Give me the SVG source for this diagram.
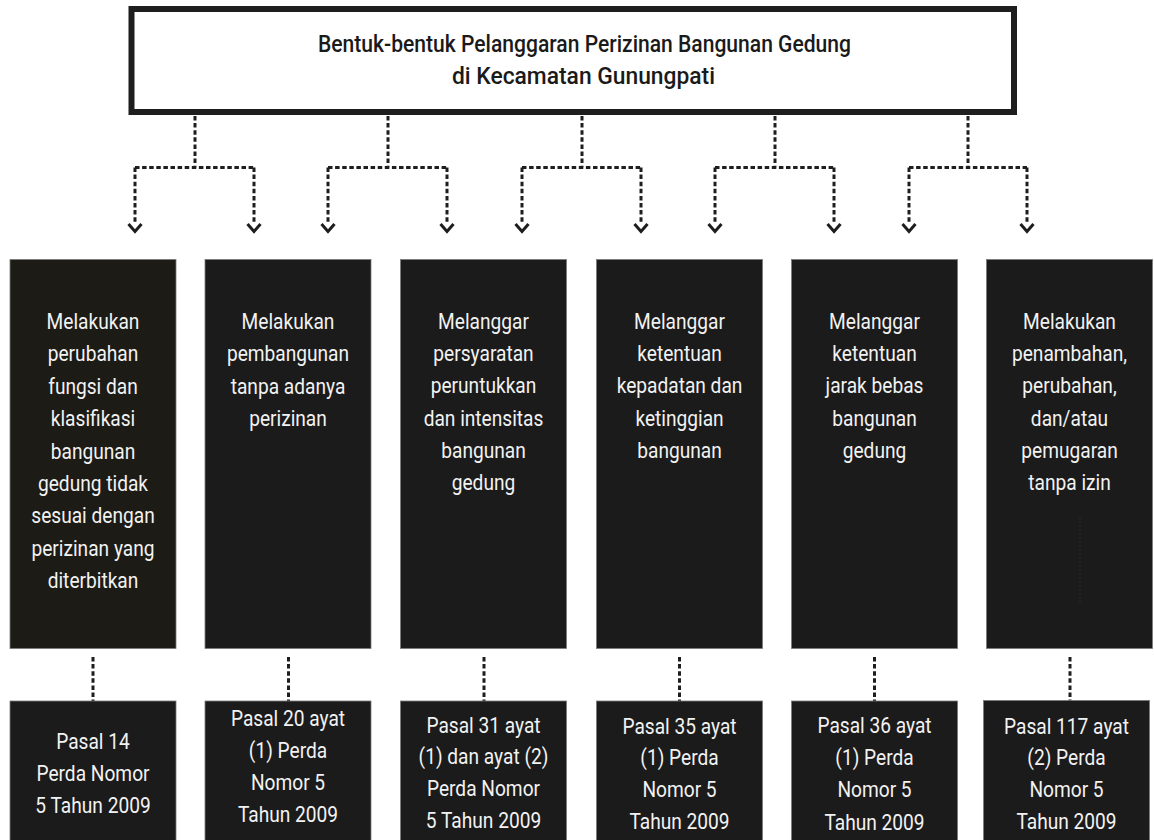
<svg xmlns="http://www.w3.org/2000/svg" width="1154" height="840" viewBox="0 0 1154 840">
<defs>
<style>
.title{font-family:Roboto,"Liberation Sans",sans-serif;font-size:24px;font-weight:500;fill:#1a1a1a;text-anchor:middle}
.box{fill:#1b1b1b;stroke:#7a7a7a;stroke-width:0.8}
.box1{fill:#1c1b15}
.lbl{font-family:Roboto,"Liberation Sans",sans-serif;font-size:22px;fill:#f2f2f2;text-anchor:middle}
.dash{fill:none;stroke:#1e1e1e;stroke-width:3;stroke-dasharray:4.5 2.6}
</style>
<marker id="chev" markerUnits="userSpaceOnUse" markerWidth="20" markerHeight="20" viewBox="-10 -10 20 20" refX="0" refY="0" orient="0" overflow="visible">
<polyline points="-6.5,2 0,9.5 6.5,2" fill="none" stroke="#1e1e1e" stroke-width="3"/>
</marker>
</defs>
<rect width="1154" height="840" fill="#ffffff"/>

<g id="title">
<rect x="131.5" y="9" width="882.5" height="103" fill="#ffffff" stroke="#1e1e1e" stroke-width="6"/>
<text class="title" x="584.5" y="52" textLength="533" lengthAdjust="spacingAndGlyphs">Bentuk-bentuk Pelanggaran Perizinan Bangunan Gedung</text>
<text class="title" x="583.5" y="84" textLength="263" lengthAdjust="spacingAndGlyphs">di Kecamatan Gunungpati</text>
</g>

<g id="connectors">
<path class="dash" d="M195 116V167.5M135 167.5H254M388 116V167.5M328 167.5H447M582 116V167.5M522 167.5H641M775 116V167.5M715 167.5H834M968 116V167.5M909 167.5H1027"/>
<path class="dash" marker-end="url(#chev)" d="M135 167.5V222"/>
<path class="dash" marker-end="url(#chev)" d="M254 167.5V222"/>
<path class="dash" marker-end="url(#chev)" d="M328 167.5V222"/>
<path class="dash" marker-end="url(#chev)" d="M447 167.5V222"/>
<path class="dash" marker-end="url(#chev)" d="M522 167.5V222"/>
<path class="dash" marker-end="url(#chev)" d="M641 167.5V222"/>
<path class="dash" marker-end="url(#chev)" d="M715 167.5V222"/>
<path class="dash" marker-end="url(#chev)" d="M834 167.5V222"/>
<path class="dash" marker-end="url(#chev)" d="M909 167.5V222"/>
<path class="dash" marker-end="url(#chev)" d="M1027 167.5V222"/>
<path class="dash" d="M93 657V701M288.5 657V701M484 657V701M679.5 657V701M874.5 657V701M1070 657V701"/>
</g>

<g id="node1">
<rect class="box box1" x="10" y="259.5" width="166" height="389"/>
<text class="lbl" transform="translate(93 329) scale(0.87 1)"><tspan x="0" dy="0">Melakukan</tspan><tspan x="0" dy="32.4">perubahan</tspan><tspan x="0" dy="32.4">fungsi dan</tspan><tspan x="0" dy="32.4">klasifikasi</tspan><tspan x="0" dy="32.4">bangunan</tspan><tspan x="0" dy="32.4">gedung tidak</tspan><tspan x="0" dy="32.4">sesuai dengan</tspan><tspan x="0" dy="32.4">perizinan yang</tspan><tspan x="0" dy="32.4">diterbitkan</tspan></text>
</g>
<g id="node2">
<rect class="box" x="205" y="259.5" width="166" height="389"/>
<text class="lbl" transform="translate(288 329) scale(0.87 1)"><tspan x="0" dy="0">Melakukan</tspan><tspan x="0" dy="32.4">pembangunan</tspan><tspan x="0" dy="32.4">tanpa adanya</tspan><tspan x="0" dy="32.4">perizinan</tspan></text>
</g>
<g id="node3">
<rect class="box" x="400.5" y="259.5" width="166" height="389"/>
<text class="lbl" transform="translate(483.5 329) scale(0.87 1)"><tspan x="0" dy="0">Melanggar</tspan><tspan x="0" dy="32.2">persyaratan</tspan><tspan x="0" dy="32.2">peruntukkan</tspan><tspan x="0" dy="32.2">dan intensitas</tspan><tspan x="0" dy="32.2">bangunan</tspan><tspan x="0" dy="32.2">gedung</tspan></text>
</g>
<g id="node4">
<rect class="box" x="596.5" y="259.5" width="166" height="389"/>
<text class="lbl" transform="translate(679.5 329) scale(0.87 1)"><tspan x="0" dy="0">Melanggar</tspan><tspan x="0" dy="32.2">ketentuan</tspan><tspan x="0" dy="32.2">kepadatan dan</tspan><tspan x="0" dy="32.2">ketinggian</tspan><tspan x="0" dy="32.2">bangunan</tspan></text>
</g>
<g id="node5">
<rect class="box" x="791.5" y="259.5" width="166" height="389"/>
<text class="lbl" transform="translate(874.5 329) scale(0.87 1)"><tspan x="0" dy="0">Melanggar</tspan><tspan x="0" dy="32.2">ketentuan</tspan><tspan x="0" dy="32.2">jarak bebas</tspan><tspan x="0" dy="32.2">bangunan</tspan><tspan x="0" dy="32.2">gedung</tspan></text>
</g>
<g id="node6">
<rect class="box" x="986.5" y="259.5" width="166" height="389"/>
<text class="lbl" transform="translate(1069.5 329) scale(0.87 1)"><tspan x="0" dy="0">Melakukan</tspan><tspan x="0" dy="32.2">penambahan,</tspan><tspan x="0" dy="32.2">perubahan,</tspan><tspan x="0" dy="32.2">dan/atau</tspan><tspan x="0" dy="32.2">pemugaran</tspan><tspan x="0" dy="32.2">tanpa izin</tspan></text>
<path d="M1080 517V603" stroke="#2c2c2c" stroke-width="1" stroke-dasharray="2 2"/>
</g>

<g id="ref1">
<rect class="box" x="10" y="701" width="166" height="150"/>
<text class="lbl" transform="translate(93 749) scale(0.87 1)"><tspan x="0" dy="0">Pasal 14</tspan><tspan x="0" dy="32.2">Perda Nomor</tspan><tspan x="0" dy="32.2">5 Tahun 2009</tspan></text>
</g>
<g id="ref2">
<rect class="box" x="205" y="701" width="166" height="150"/>
<text class="lbl" transform="translate(288 726) scale(0.87 1)"><tspan x="0" dy="0">Pasal 20 ayat</tspan><tspan x="0" dy="32">(1) Perda</tspan><tspan x="0" dy="32">Nomor 5</tspan><tspan x="0" dy="32">Tahun 2009</tspan></text>
</g>
<g id="ref3">
<rect class="box" x="400.5" y="701" width="166" height="150"/>
<text class="lbl" transform="translate(483.5 732.5) scale(0.87 1)"><tspan x="0" dy="0">Pasal 31 ayat</tspan><tspan x="0" dy="31.8">(1) dan ayat (2)</tspan><tspan x="0" dy="31.8">Perda Nomor</tspan><tspan x="0" dy="31.8">5 Tahun 2009</tspan></text>
</g>
<g id="ref4">
<rect class="box" x="596.5" y="701" width="166" height="150"/>
<text class="lbl" transform="translate(679.5 733.5) scale(0.87 1)"><tspan x="0" dy="0">Pasal 35 ayat</tspan><tspan x="0" dy="32">(1) Perda</tspan><tspan x="0" dy="32">Nomor 5</tspan><tspan x="0" dy="32">Tahun 2009</tspan></text>
</g>
<g id="ref5">
<rect class="box" x="791.5" y="701" width="166" height="150"/>
<text class="lbl" transform="translate(874.5 733) scale(0.87 1)"><tspan x="0" dy="0">Pasal 36 ayat</tspan><tspan x="0" dy="32.2">(1) Perda</tspan><tspan x="0" dy="32.2">Nomor 5</tspan><tspan x="0" dy="32.2">Tahun 2009</tspan></text>
</g>
<g id="ref6">
<rect class="box" x="983.5" y="700.5" width="166" height="150"/>
<text class="lbl" transform="translate(1066.5 733.5) scale(0.87 1)"><tspan x="0" dy="0">Pasal 117 ayat</tspan><tspan x="0" dy="32">(2) Perda</tspan><tspan x="0" dy="32">Nomor 5</tspan><tspan x="0" dy="32">Tahun 2009</tspan></text>
</g>
</svg>
